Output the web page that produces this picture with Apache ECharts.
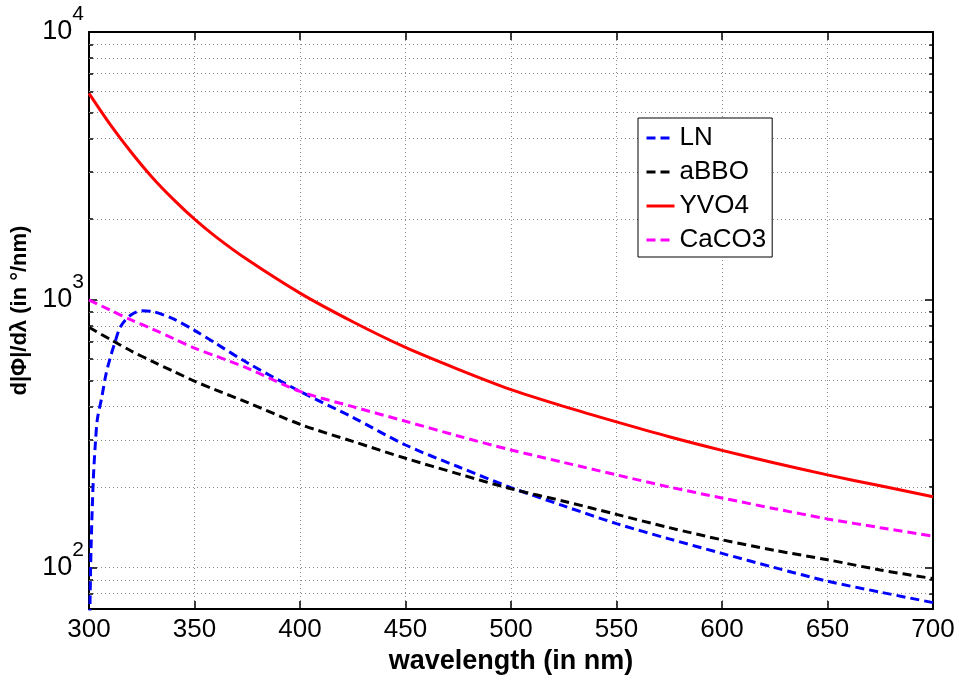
<!DOCTYPE html>
<html>
<head>
<meta charset="utf-8">
<script src="https://cdn.jsdelivr.net/npm/echarts@6/dist/echarts.min.js"></script>
<style>html,body{margin:0;padding:0;background:#fff}#c{width:959px;height:680px}</style>
</head>
<body>
<div id="c"></div>
<script>
// wavelengths (nm)
const wl = [300,310,320,330,340,350,360,375,400,425,450,475,500,525,550,575,600,625,650,675,700];
const wlLN = [300,300.5,301,302,303,304,306,308,310,312,315,320,325,330,340,350,360,375,400,425,450,475,500,525,550,575,600,625,650,675,700];
// d|Phi|/d lambda (deg/nm)
const LN    = [40,75,120,210,290,360,430,525,605,682,795,880,910,905,848,769,688,582,455,364,287,238,199,170,146,128,113,100,89,81,74];
const aBBO  = [790,712,644,589,541,497,461,414,343,296,256,224,197,177,158,141,127,116,107,98,91];
const YVO4  = [5900,4520,3556,2864,2371,2000,1722,1413,1059,828,664,550,462,400,350,308,274,246,222,202,184];
const CaCO3 = [1000,915,841,778,717,660,617,556,455,399,352,310,275,247,222,200,182,166,152,141,131];
const names = ['LN','aBBO','YVO4','CaCO3'];
// y-axis tick values (log decades and their minor ticks)
const yMajor = [100,1000,10000];
const yMinor = [80,90,200,300,400,500,600,700,800,900,2000,3000,4000,5000,6000,7000,8000,9000];

const pair = (xs, ys) => xs.map((x, i) => [x, ys[i]]);
const gridDot = {color:'#8a8a8a', width:1, type:[1,3]};
const font = 'Liberation Sans, Arial, sans-serif';

function yLabel(v){
  const e = Math.round(Math.log10(v));
  if (Math.abs(Math.pow(10, e) - v) > 1e-6 * v) return '';
  return '{b|10}{s|' + e + '}';
}
const axisBlack = {color:'#000', width:2};
function yAx(pos, major, showLine){
  return {
    type:'log', min:70, max:10000, position:pos,
    axisLine:{show:showLine, onZero:false, lineStyle:axisBlack},
    axisTick:{show:true, inside:true, length: major ? 8 : 4, customValues: major ? yMajor : yMinor,
              lineStyle:{color:'#000', width:1.5}},
    axisLabel:{show:false}, splitLine:{show:false}
  };
}

const chart = echarts.init(document.getElementById('c'), null, {renderer:'canvas'});
chart.setOption({
  animation:false,
  backgroundColor:'#fff',
  grid:{left:89, right:26, top:32, bottom:62},
  legend:{
    orient:'vertical', left:638, top:118,
    data:names,
    backgroundColor:'#fff',
    borderColor:'#000', borderWidth:1,
    padding:[7,6,4,7],
    itemWidth:28, itemHeight:14, itemGap:8,
    itemStyle:{opacity:0},
    lineStyle:{width:3},
    textStyle:{fontFamily:font, fontSize:26, color:'#000'}
  },
  xAxis:[{
    type:'value', min:300, max:700, interval:50,
    name:'wavelength (in nm)', nameLocation:'middle', nameGap:27,
    nameTextStyle:{fontFamily:font, fontSize:27, fontWeight:'bold', color:'#000'},
    axisLine:{show:true, lineStyle:axisBlack},
    axisTick:{show:true, inside:true, length:8, lineStyle:{color:'#000', width:1.5}},
    axisLabel:{fontFamily:font, fontSize:26, color:'#000', margin:8},
    splitLine:{show:true, lineStyle:gridDot}
  },{
    type:'value', min:300, max:700, interval:50, position:'top',
    axisLine:{show:true, onZero:false, lineStyle:axisBlack},
    axisTick:{show:true, inside:true, length:8, lineStyle:{color:'#000', width:1.5}},
    axisLabel:{show:false}, splitLine:{show:false}
  }],
  yAxis:[{
    type:'log', min:70, max:10000,
    name:'d|\u03A6|/d\u03BB (in \u00B0/nm)', nameLocation:'middle', nameGap:49,
    nameTextStyle:{fontFamily:font, fontSize:22, fontWeight:'bold', color:'#000', padding:[0,0,0,20]},
    axisLine:{show:true, lineStyle:axisBlack},
    axisTick:{show:true, inside:true, length:8, customValues:yMajor, lineStyle:{color:'#000', width:1.5}},
    splitLine:{show:true, lineStyle:gridDot},
    axisLabel:{
      formatter:yLabel, margin:5, color:'#000',
      rich:{
        b:{fontFamily:font, fontSize:27, lineHeight:56, verticalAlign:'middle', color:'#000'},
        s:{fontFamily:font, fontSize:21, lineHeight:21, verticalAlign:'top', color:'#000'}
      }
    }
  },
  yAx('right', true, true),
  yAx('left', false, false),
  yAx('right', false, false)
  ],
  series:[
    {name:'grid', type:'line', data:[], z:1, silent:true,
     markLine:{silent:true, symbol:'none', z:1, label:{show:false}, lineStyle:gridDot,
               emphasis:{disabled:true},
               data: yMinor.map(v => ({yAxis:v}))}},
    {name:'LN', type:'line', data:pair(wlLN, LN), showSymbol:false, symbol:'none', smooth:0.3,
     lineStyle:{color:'#0000ff', width:3, type:[9,5]}, itemStyle:{color:'#0000ff'}},
    {name:'aBBO', type:'line', data:pair(wl, aBBO), showSymbol:false, symbol:'none', smooth:0.3,
     lineStyle:{color:'#000000', width:3, type:[9,5]}, itemStyle:{color:'#000000'}},
    {name:'YVO4', type:'line', data:pair(wl, YVO4), showSymbol:false, symbol:'none', smooth:0.3,
     lineStyle:{color:'#ff0000', width:3, type:'solid'}, itemStyle:{color:'#ff0000'}},
    {name:'CaCO3', type:'line', data:pair(wl, CaCO3), showSymbol:false, symbol:'none', smooth:0.3,
     lineStyle:{color:'#ff00ff', width:3, type:[9,5]}, itemStyle:{color:'#ff00ff'}}
  ]
});
</script>
</body>
</html>
